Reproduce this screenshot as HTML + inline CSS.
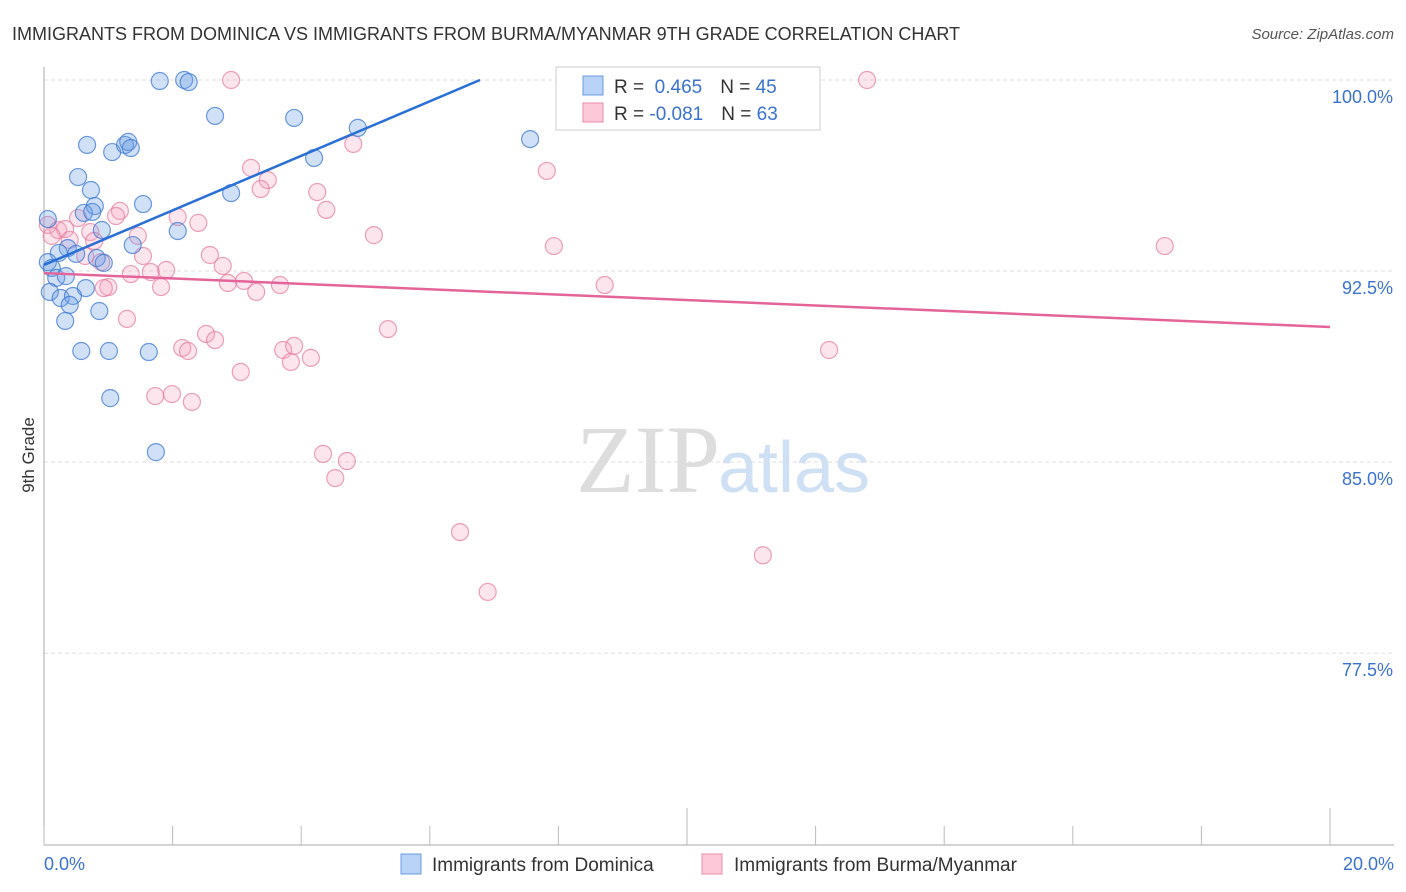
<!DOCTYPE html>
<html><head><meta charset="utf-8"><style>
body{margin:0;background:#fff;font-family:"Liberation Sans",sans-serif;}
svg{display:block}
</style></head><body>
<svg id="chart" width="1406" height="892" xmlns="http://www.w3.org/2000/svg">
<text x="12" y="40" font-size="18" fill="#333">IMMIGRANTS FROM DOMINICA VS IMMIGRANTS FROM BURMA/MYANMAR 9TH GRADE CORRELATION CHART</text>
<text x="1394" y="39" font-size="15" fill="#555" font-style="italic" text-anchor="end">Source: ZipAtlas.com</text>
<text x="720" y="492" font-size="96" fill="#ddd" text-anchor="end" font-family="Liberation Serif,serif">ZIP</text>
<text x="718" y="492" font-size="72" fill="#cfe0f5">atlas</text>
<g id="grid"></g>
<g id="axes"></g>
<g id="marks"></g>
<text transform="translate(34,455) rotate(-90)" font-size="17" fill="#333" text-anchor="middle">9th Grade</text>
<g>
<rect x="556" y="67" width="264" height="63" fill="#fff" stroke="#ccc"/>
<rect x="583" y="76" width="20" height="19" fill="#b8d3f5" stroke="#6a9be0"/>
<rect x="583" y="103" width="20" height="19" fill="#fbc9d8" stroke="#e88aa8"/>
<text x="614" y="93" font-size="19" fill="#333">R = <tspan fill="#3a72d0">&#160;0.465</tspan><tspan dx="18">N = </tspan><tspan fill="#3a72d0">45</tspan></text>
<text x="614" y="120" font-size="19" fill="#333">R = <tspan fill="#3a72d0">-0.081</tspan><tspan dx="18">N = </tspan><tspan fill="#3a72d0">63</tspan></text>
</g>
<g>
<rect x="401" y="854" width="20" height="20" fill="#b8d3f5" stroke="#6a9be0"/>
<text x="432" y="871" font-size="19" fill="#333">Immigrants from Dominica</text>
<rect x="702" y="854" width="20" height="20" fill="#fbc9d8" stroke="#e88aa8"/>
<text x="734" y="871" font-size="19" fill="#333">Immigrants from Burma/Myanmar</text>
</g>
</svg>
<script>
const blueX=[1.80,2.18,2.25,2.66,3.89,0.67,1.06,1.26,1.31,1.35,4.88,4.20,7.56,0.53,0.73,0.79,0.62,0.75,1.54,2.91,0.06,2.08,0.90,1.38,0.37,0.23,0.50,0.06,0.12,0.82,0.93,0.19,0.34,0.65,0.09,0.26,0.45,0.40,0.86,0.33,0.58,1.01,1.63,1.03,1.74];
const blueY=[99.96,100,99.92,98.59,98.51,97.45,97.17,97.45,97.57,97.33,98.12,96.94,97.68,96.19,95.68,95.05,94.78,94.82,95.13,95.56,94.54,94.07,94.11,93.52,93.40,93.21,93.17,92.85,92.62,93.01,92.82,92.23,92.30,91.83,91.68,91.44,91.52,91.17,90.93,90.54,89.36,89.36,89.32,87.51,85.39];
const pinkX=[2.91,9.98,12.80,4.81,7.82,3.22,3.48,3.37,4.25,4.39,1.18,1.12,2.08,2.40,0.53,0.06,0.22,0.33,0.12,0.72,0.40,0.78,1.46,5.13,7.93,17.43,0.64,0.89,1.54,2.58,2.78,1.90,1.66,1.35,2.86,3.11,3.67,3.30,1.82,1.00,0.93,8.72,1.29,5.35,2.52,2.66,2.15,2.24,3.72,3.89,4.15,3.84,12.21,3.06,1.73,1.99,2.30,4.34,4.71,4.53,6.47,11.18,6.90];
const pinkY=[100,100,100,97.49,96.43,96.55,96.07,95.72,95.60,94.90,94.86,94.66,94.62,94.39,94.58,94.31,94.11,94.15,93.88,94.03,93.72,93.68,93.88,93.91,93.48,93.48,93.09,92.85,93.09,93.13,92.70,92.54,92.46,92.38,92.03,92.11,91.95,91.68,91.87,91.87,91.83,91.95,90.62,90.22,90.03,89.79,89.48,89.36,89.40,89.56,89.09,88.93,89.40,88.54,87.59,87.67,87.36,85.32,85.04,84.37,82.25,81.34,79.90];
const blueTrend=[[0,92.74],[6.78,100]];
const pinkTrend=[[0,92.42],[20,90.3]];
const yTicks=[100,92.5,85,77.5];
const yTickLabels=["100.0%","92.5%","85.0%","77.5%"];
const xTicks=[0,2,4,6,8,10,12,14,16,18,20];
const NS="http://www.w3.org/2000/svg";
const sx=v=>44+v*64.3, sy=v=>80+(100-v)*25.47;
function mk(tag,attrs,parent){const e=document.createElementNS(NS,tag);for(const k in attrs)e.setAttribute(k,attrs[k]);parent.appendChild(e);return e;}
const grid=document.getElementById('grid'),axes=document.getElementById('axes'),marks=document.getElementById('marks');
yTicks.forEach((t,i)=>{
 const l=mk('line',{x1:44,x2:1394,y1:sy(t),y2:sy(t),stroke:'#ddd','stroke-dasharray':'4,3'},grid);
 
 
 const tx=mk('text',{x:1393,y:sy(t)+23,'font-size':18,fill:'#3a72d0','text-anchor':'end'},axes);
 tx.textContent=yTickLabels[i];
 
 
});
const ya=mk('line',{x1:44,x2:44,y1:67,y2:845,stroke:'#aaa'},axes);


const xa=mk('line',{x1:44,x2:1394,y1:845,y2:845,stroke:'#aaa'},axes);


xTicks.forEach(t=>{
 const tall=(t===10||t===20);
 const l=mk('line',{x1:sx(t),x2:sx(t),y1:tall?808:826,y2:845,stroke:'#bbb'},axes);
 
 
});
[[0,'0.0%','start',44],[20,'20.0%','end',1394]].forEach(a=>{
 const tx=mk('text',{x:a[3],y:870,'font-size':18,fill:'#3a72d0','text-anchor':a[2]},axes);
 tx.textContent=a[1];
 
 
});
function pts(X,Y,fill,stroke,name){X.forEach((x,i)=>{
 const c=mk('circle',{cx:sx(x),cy:sy(Y[i]),r:8.5,fill:fill,stroke:stroke,'stroke-width':1.2},marks);
 
 
});}
pts(pinkX,pinkY,'rgba(245,160,190,0.28)','rgba(230,120,155,0.7)','burma-point');
pts(blueX,blueY,'rgba(110,160,230,0.32)','rgba(60,120,210,0.75)','dominica-point');
const bl=mk('line',{x1:sx(blueTrend[0][0]),y1:sy(blueTrend[0][1]),x2:sx(blueTrend[1][0]),y2:sy(blueTrend[1][1]),stroke:'#2a6fd6','stroke-width':2.5},marks);


const pl=mk('line',{x1:sx(pinkTrend[0][0]),y1:sy(pinkTrend[0][1]),x2:sx(pinkTrend[1][0]),y2:sy(pinkTrend[1][1]),stroke:'#e4649a','stroke-width':2.5},marks);


</script>
</body></html>
